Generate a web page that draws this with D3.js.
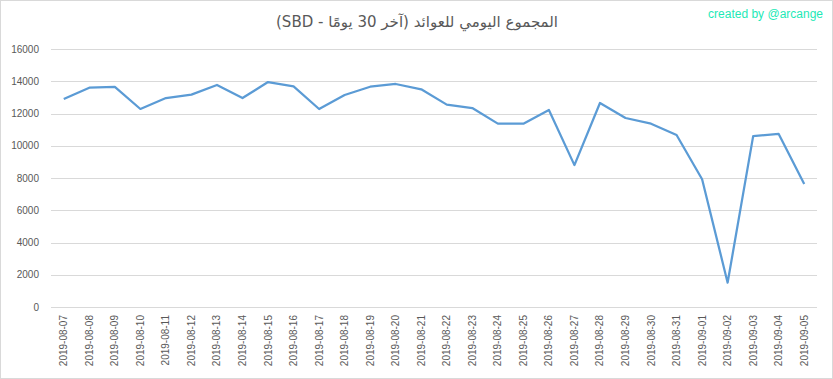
<!DOCTYPE html>
<html>
<head>
<meta charset="utf-8">
<script src="https://cdn.jsdelivr.net/npm/d3@7"></script>
<style>
	body { margin: 0; background: #fff; }
	svg text { font-family: "Liberation Sans", Arial, sans-serif; }
</style>
</head>
<body>
<svg id="chart"></svg>
<script>
(function(){

	// data
	var dates = ["2019-08-07", "2019-08-08", "2019-08-09", "2019-08-10", "2019-08-11", "2019-08-12",
		"2019-08-13", "2019-08-14", "2019-08-15", "2019-08-16", "2019-08-17", "2019-08-18",
		"2019-08-19", "2019-08-20", "2019-08-21", "2019-08-22", "2019-08-23", "2019-08-24",
		"2019-08-25", "2019-08-26", "2019-08-27", "2019-08-28", "2019-08-29", "2019-08-30",
		"2019-08-31", "2019-09-01", "2019-09-02", "2019-09-03", "2019-09-04", "2019-09-05"];
	var rewards = [12900, 13600, 13650, 12280, 12960, 13170,
		13770, 12960, 13950, 13680, 12280, 13150,
		13660, 13830, 13500, 12550, 12340, 11370,
		11370, 12220, 8800, 12650, 11720, 11370,
		10670, 7920, 1510, 10600, 10730, 7630];
	var yTicks = [0, 2000, 4000, 6000, 8000, 10000, 12000, 14000, 16000];

	var titleText = "المجموع اليومي للعوائد (آخر 30 يومًا - SBD)";
	var creditText = "created by @arcange";

	//SVG Configurations
	var svgWidth = 833, svgHeight = 379;
	var left = 51, right = 817, top = 49, bottom = 307;

	var svg = d3.select("#chart")
		.attr("width", svgWidth)
		.attr("height", svgHeight);

	// outer frame
	svg.append("rect")
		.attr("x", 0.5).attr("y", 0.5)
		.attr("width", svgWidth - 1).attr("height", svgHeight - 1)
		.attr("fill", "white")
		.attr("stroke", "#d9d9d9");

	var x = d3.scaleBand().domain(dates).range([left, right]);
	var y = d3.scaleLinear().domain([0, 16000]).range([bottom, top]);

	//gridlines
	svg.append("g")
		.selectAll("line")
		.data(yTicks)
		.enter()
		.append("line")
		.attr("x1", left).attr("x2", right)
		.attr("y1", function(d){ return Math.round(y(d)) + 0.5; })
		.attr("y2", function(d){ return Math.round(y(d)) + 0.5; })
		.attr("stroke", "#d9d9d9")
		.attr("stroke-width", 1);

	//y axis labels
	var yAxis = svg.append("g")
		.attr("transform", "translate(" + (left - 12) + ",0)")
		.call(d3.axisLeft(y).tickValues(yTicks).tickSize(0).tickPadding(0).tickFormat(d3.format("d")));
	yAxis.select(".domain").remove();
	yAxis.selectAll("text")
		.attr("font-size", "10px")
		.attr("fill", "#595959")
		.style("font-family", "Liberation Sans, Arial, sans-serif");

	//x axis labels, rotated
	var xAxis = svg.append("g")
		.attr("transform", "translate(0," + bottom + ")")
		.call(d3.axisBottom(x).tickSize(0).tickPadding(0));
	xAxis.select(".domain").remove();
	xAxis.selectAll("text")
		.attr("font-size", "10px")
		.attr("fill", "#595959")
		.style("font-family", "Liberation Sans, Arial, sans-serif")
		.attr("text-anchor", "end")
		.attr("dy", "0.35em")
		.attr("transform", "translate(0,8) rotate(-90)")
		.attr("x", 0).attr("y", 0);

	//line
	var line = d3.line()
		.x(function(d, i){ return x(dates[i]) + x.bandwidth() / 2; })
		.y(function(d){ return y(d); });

	svg.append("path")
		.datum(rewards)
		.attr("d", line)
		.attr("fill", "none")
		.attr("stroke", "#5b9bd5")
		.attr("stroke-width", 2.25)
		.attr("stroke-linejoin", "round");

	//title (right-to-left)
	svg.append("text")
		.attr("x", 417)
		.attr("y", 27)
		.attr("text-anchor", "middle")
		.attr("direction", "rtl")
		.style("direction", "rtl")
		.style("unicode-bidi", "embed")
		.attr("font-size", "15px")
		.attr("fill", "#595959")
		.style("font-family", "DejaVu Sans, Noto Sans, sans-serif")
		.text(titleText);

	//credit
	svg.append("text")
		.attr("x", 823)
		.attr("y", 18)
		.attr("text-anchor", "end")
		.attr("font-size", "12px")
		.attr("fill", "#1de9b6")
		.style("font-family", "Liberation Sans, Arial, sans-serif")
		.text(creditText);

})();
</script>
</body>
</html>
